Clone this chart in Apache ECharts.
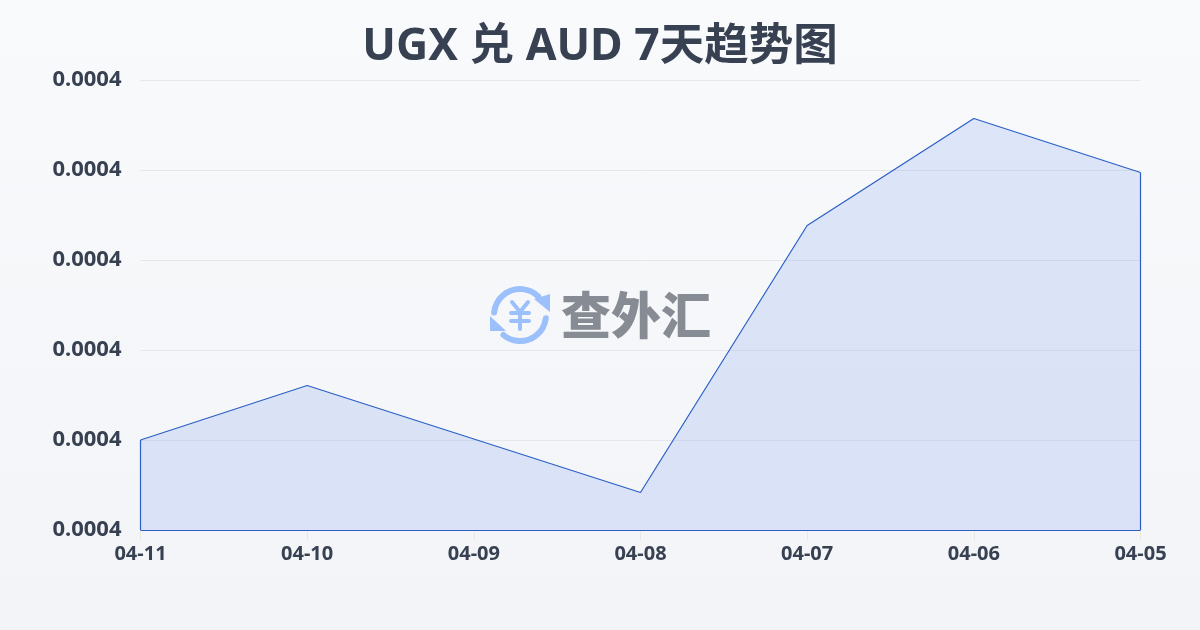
<!DOCTYPE html>
<html>
<head>
<meta charset="utf-8">
<style>html,body{margin:0;padding:0;background:#f5f7fa}#c{width:1200px;height:630px}</style>
<script src="https://cdn.jsdelivr.net/npm/echarts@6/dist/echarts.min.js"></script>
</head>
<body>
<div id="c"></div>
<script>
var categories = ['04-11','04-10','04-09','04-08','04-07','04-06','04-05'];
var rates = [0.00037000,0.00037606,0.00037011,0.00036417,0.00039383,0.00040572,0.00039972];
var axisMin = 0.00036;
var axisMax = 0.00041;
var axisStep = 0.00001;
var titleText = 'UGX 兑 AUD 7天趋势图';
var brandText = '查外汇';

var chart = echarts.init(document.getElementById('c'), null, {renderer:'canvas', width:1200, height:630});
var lineBlue = '#2b5fc7';
var logoBlue = '#9cc0fb';
var FONT = '"Noto Sans","Noto Sans CJK SC",sans-serif';
var last = categories.length - 1;
function seg(a, av, b, bv){ return [{xAxis:a, yAxis:av},{xAxis:b, yAxis:bv}]; }
function stroke(shape, type){
  return {type:type, z:20, silent:true, shape:shape,
    style:{fill:null, stroke:logoBlue, lineWidth:type==='arc'?6:4, lineCap:'round', lineJoin:'round'}};
}
function tri(points){
  return {type:'polygon', z:20, silent:true, shape:{points:points}, style:{fill:logoBlue}};
}
chart.setOption({
  animation:false,
  backgroundColor:{type:'linear',x:0,y:0,x2:0,y2:1,colorStops:[{offset:0,color:'#f8fafc'},{offset:1,color:'#f2f4f7'}]},
  title:{text:titleText,left:'center',top:20,textStyle:{fontFamily:FONT,fontSize:44.5,fontWeight:700,color:'#374151'}},
  grid:{left:140.5,right:59.5,top:80,bottom:100,containLabel:false},
  xAxis:{type:'category',data:categories,boundaryGap:false,
    axisLine:{show:false},
    axisTick:{show:true,length:10,lineStyle:{color:'#e8e8e0'}},
    axisLabel:{fontFamily:FONT,fontSize:20,fontWeight:700,color:'#374151',margin:14,hideOverlap:false,interval:0},
    splitLine:{show:false}},
  yAxis:{type:'value',min:axisMin,max:axisMax,interval:axisStep,
    axisLine:{show:false},axisTick:{show:false},
    axisLabel:{fontFamily:FONT,fontSize:22,fontWeight:700,color:'#374151',margin:19,
      formatter:function(v){return v.toFixed(4);}},
    splitLine:{show:true,lineStyle:{color:'#e5e7eb',width:1}}},
  series:[{
    type:'line',data:rates,smooth:false,showSymbol:false,symbol:'none',
    lineStyle:{color:lineBlue,width:1.2},
    areaStyle:{color:'rgba(37,99,235,0.18)'},
    markLine:{silent:true,symbol:'none',label:{show:false},animation:false,
      lineStyle:{color:lineBlue,width:1.2,type:'solid'},
      data:[
        seg(categories[0],rates[0],categories[0],axisMin),
        seg(categories[0],axisMin,categories[last],axisMin),
        seg(categories[last],axisMin,categories[last],rates[last])
      ]}
  }],
  graphic:[
    stroke({cx:520,cy:315,r:26,startAngle:-Math.PI*0.97,endAngle:-Math.PI*0.25,clockwise:true},'arc'),
    stroke({cx:520,cy:315,r:26,startAngle:Math.PI*0.04,endAngle:Math.PI*0.72,clockwise:true},'arc'),
    tri([[534,299],[550,294],[550,312]]),
    tri([[490,316],[490,331],[506,331]]),
    stroke({x1:512,y1:302,x2:520,y2:312},'line'),
    stroke({x1:528,y1:302,x2:520,y2:312},'line'),
    stroke({x1:511,y1:313,x2:529,y2:313},'line'),
    stroke({x1:511,y1:321,x2:529,y2:321},'line'),
    stroke({x1:520,y1:312,x2:520,y2:329},'line'),
    {type:'text',z:20,silent:true,x:636,y:315,style:{text:brandText,fontFamily:'"Noto Sans CJK SC"',fontSize:50,fontWeight:900,fill:'#878b93',textAlign:'center',textVerticalAlign:'middle'}}
  ]
});
</script>
</body>
</html>
